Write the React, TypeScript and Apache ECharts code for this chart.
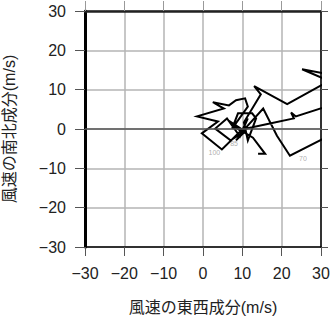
import React, { useEffect, useRef } from 'react';
import * as echarts from 'echarts';

// Hodograph trace: east-west (u) and north-south (v) wind components, m/s
const uWind = [
  14.0, 15.8, 12.7, 9.7, 4.8, -0.3, 3.8, -1.5, 5.3, 2.5, 6.6, 8.4, 10.7, 11.4,
  7.4, 8.9, 12.5, 13.5, 11.4, 10.4, 14.7, 13.0, 21.4, 36.5, 36.5, 25.2, 32.3,
  34.8, 23.6, 22.4, 23.1, 17.0, 9.9, 6.4, 10.2, 8.4, 10.4, 7.6, 10.2, 7.0, 3.1,
  6.1, 9.4, 11.4, 9.6, 15.3, 18.8, 22.1, 36.5,
];
const vWind = [
  -6.3, -6.3, -2.2, -0.4, -5.2, -1.1, 1.9, 3.2, 5.2, 6.8, 6.0, 7.3, 7.8, 5.7,
  0.1, 4.0, 4.0, 2.7, -2.9, 1.7, 8.8, 10.9, 6.3, 14.7, 13.1, 15.2, 12.1, 6.8,
  3.2, 4.2, 2.7, 1.4, -0.1, 2.2, -1.1, -2.9, -0.6, 0.9, -0.9, -2.9, 0.1, 2.7,
  -1.9, 2.7, -1.1, 5.2, -1.7, -6.8, 0.6,
];

// small level annotations
const levelLabels = ['100', '85', '70'];
const levelU = [2.9, 7.9, 25.4];
const levelV = [-6.1, -3.8, -7.6];

const axisMin = -30;
const axisMax = 30;
const axisStep = 10;

const FONT = '"Liberation Sans", "Noto Sans CJK JP", sans-serif';

export default function App() {
  const ref = useRef<HTMLDivElement>(null);
  useEffect(() => {
    const chart = echarts.init(ref.current!, null, { renderer: 'svg' });
    const fmt = (v: number) => (v < 0 ? '\u2212' + Math.abs(v) : String(v));
    const base = { type: 'value', min: axisMin, max: axisMax, interval: axisStep };
    const labelStyle = { fontSize: 16, color: '#222', fontFamily: FONT, formatter: fmt };
    const nameStyle = { fontSize: 16, color: '#222', fontFamily: FONT };
    chart.setOption({
      animation: false,
      grid: { left: 85, right: 10, top: 11, bottom: 71, outerBoundsMode: 'none', containLabel: false },
      xAxis: [
        {
          ...base,
          position: 'bottom',
          name: '風速の東西成分(m/s)',
          nameLocation: 'middle',
          nameGap: 52,
          nameTextStyle: nameStyle,
          axisLine: { show: true, onZero: false, lineStyle: { color: '#000', width: 1.5 } },
          axisTick: { show: true, length: 9, lineStyle: { color: '#555', width: 1 } },
          axisLabel: { ...labelStyle, margin: 18 },
          splitLine: { show: true, lineStyle: { color: '#b5b5b5', width: 1.5 } },
        },
        {
          ...base,
          position: 'top',
          axisLine: { show: true, onZero: false, lineStyle: { color: '#222', width: 2.5 } },
          axisTick: { show: true, length: 10, lineStyle: { color: '#999', width: 1 } },
          axisLabel: { show: false },
          splitLine: { show: false },
        },
      ],
      yAxis: [
        {
          ...base,
          position: 'left',
          name: '風速の南北成分(m/s)',
          nameLocation: 'middle',
          nameGap: 68,
          nameTextStyle: nameStyle,
          axisLine: { show: true, onZero: false, lineStyle: { color: '#000', width: 3 } },
          axisTick: { show: true, length: 10, lineStyle: { color: '#555', width: 1 } },
          axisLabel: { ...labelStyle, margin: 19 },
          splitLine: { show: true, lineStyle: { color: '#b5b5b5', width: 1.5 } },
        },
        {
          ...base,
          position: 'right',
          axisLine: { show: true, onZero: false, lineStyle: { color: '#000', width: 1.5 } },
          axisTick: { show: true, length: 7, lineStyle: { color: '#555', width: 1 } },
          axisLabel: { show: false },
          splitLine: { show: false },
        },
      ],
      series: [
        {
          type: 'scatter',
          xAxisIndex: 0,
          yAxisIndex: 0,
          z: 2,
          symbolSize: 0,
          silent: true,
          data: levelLabels.map((name, i) => ({ name, value: [levelU[i], levelV[i]] })),
          label: {
            show: true,
            position: 'inside',
            formatter: '{b}',
            fontSize: 7,
            color: '#999',
            fontFamily: FONT,
          },
          markLine: {
            silent: true,
            symbol: ['none', 'none'],
            label: { show: false },
            lineStyle: { color: '#555', width: 1.5, type: 'solid' },
            data: [{ yAxis: 0 }],
          },
        },
        {
          type: 'line',
          xAxisIndex: 0,
          yAxisIndex: 0,
          z: 3,
          clip: true,
          symbol: 'none',
          silent: true,
          data: uWind.map((u, i) => [u, vWind[i]]),
          lineStyle: { color: '#000', width: 2, join: 'miter', miterLimit: 10 },
        },
      ],
    });
    return () => chart.dispose();
  }, []);
  return (
    <div
      ref={ref}
      style={{ position: 'absolute', left: 0, top: 0, width: 331, height: 318 }}
    />
  );
}
